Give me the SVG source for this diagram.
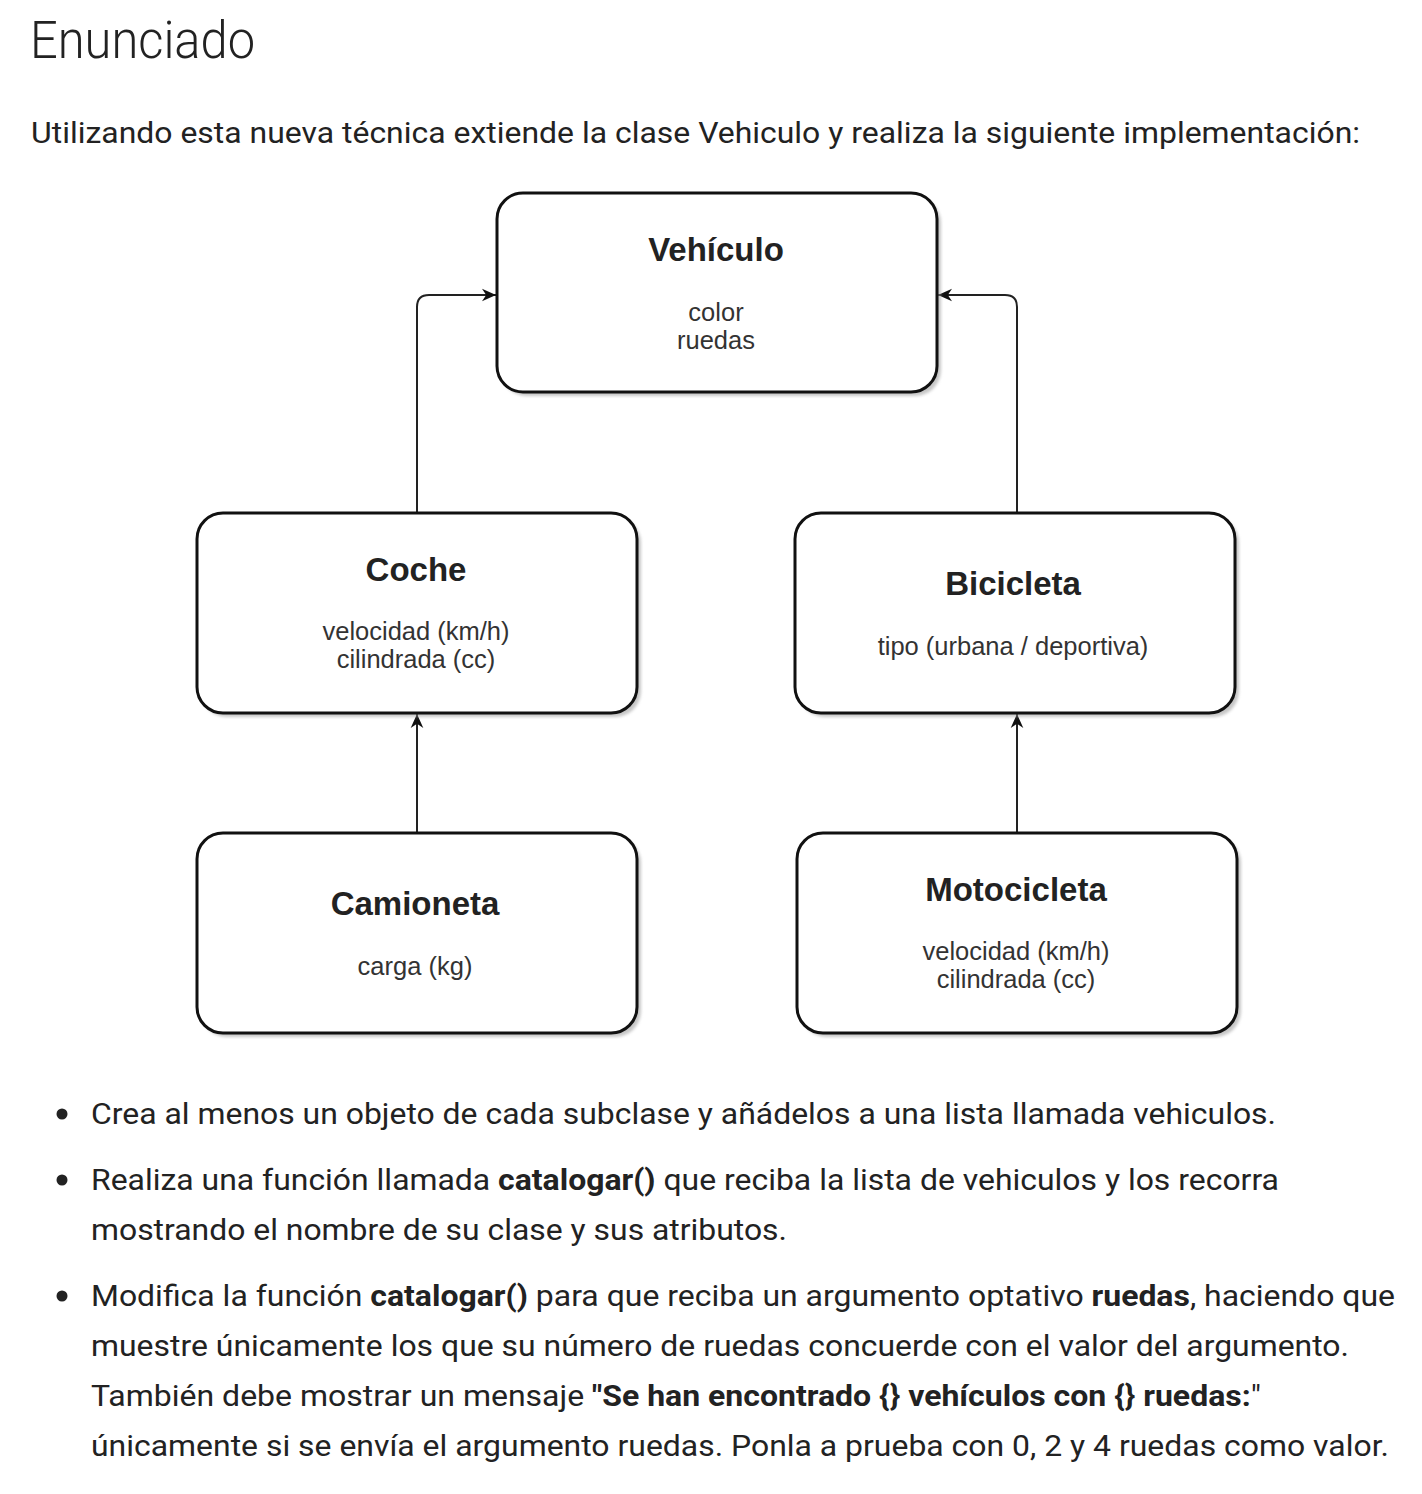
<svg xmlns="http://www.w3.org/2000/svg" width="1422" height="1494" viewBox="0 0 1422 1494">
<style>
.h1{font-family:Roboto,"Liberation Sans",sans-serif;font-weight:300;font-size:51px;fill:#222}
.p{font-family:Roboto,"Liberation Sans",sans-serif;font-size:29px;fill:#222}
.b{font-weight:bold}
.box{fill:#fff;stroke:#111;stroke-width:3}
.sh{fill:#999;opacity:0.55}
.t{font-family:"Liberation Sans",Arial,sans-serif;font-weight:bold;font-size:33px;fill:#222;text-anchor:middle}
.a{font-family:"Liberation Sans",Arial,sans-serif;font-size:25.5px;fill:#333;text-anchor:middle}
.c{fill:none;stroke:#222;stroke-width:2}
</style>
<defs>
<filter id="blur" x="-5%" y="-5%" width="110%" height="110%"><feGaussianBlur stdDeviation="1.5"/></filter>
<marker id="arr" viewBox="0 0 10 10" refX="10" refY="5" markerWidth="15" markerHeight="14" markerUnits="userSpaceOnUse" orient="auto">
<path d="M0,0.5 L10,5 L0,9.5 L3,5 z" fill="#111"/>
</marker>
</defs>
<rect width="1422" height="1494" fill="#fff"/>
<text class="h1" x="30" y="58" textLength="225" lengthAdjust="spacingAndGlyphs">Enunciado</text>
<text class="p" x="31" y="143" textLength="1329" lengthAdjust="spacingAndGlyphs">Utilizando esta nueva técnica extiende la clase Vehiculo y realiza la siguiente implementación:</text>

<g id="connectors">
<path class="c" d="M417,513 V307 Q417,295 429,295 H496" marker-end="url(#arr)"/>
<path class="c" d="M1017,513 V307 Q1017,295 1005,295 H938" marker-end="url(#arr)"/>
<path class="c" d="M417,833 V714" marker-end="url(#arr)"/>
<path class="c" d="M1017,833 V714" marker-end="url(#arr)"/>
</g>

<g id="vehiculo">
<rect class="sh" filter="url(#blur)" x="501" y="197" width="440" height="199" rx="26"/>
<rect class="box" x="497" y="193" width="440" height="199" rx="26"/>
<text class="t" x="716" y="261">Vehículo</text>
<text class="a" x="716" y="321">color</text>
<text class="a" x="716" y="349">ruedas</text>
</g>
<g id="coche">
<rect class="sh" filter="url(#blur)" x="201" y="517" width="440" height="200" rx="26"/>
<rect class="box" x="197" y="513" width="440" height="200" rx="26"/>
<text class="t" x="416" y="581">Coche</text>
<text class="a" x="416" y="640">velocidad (km/h)</text>
<text class="a" x="416" y="668">cilindrada (cc)</text>
</g>
<g id="bicicleta">
<rect class="sh" filter="url(#blur)" x="799" y="517" width="440" height="200" rx="26"/>
<rect class="box" x="795" y="513" width="440" height="200" rx="26"/>
<text class="t" x="1013" y="595">Bicicleta</text>
<text class="a" x="1013" y="655">tipo (urbana / deportiva)</text>
</g>
<g id="camioneta">
<rect class="sh" filter="url(#blur)" x="201" y="837" width="440" height="200" rx="26"/>
<rect class="box" x="197" y="833" width="440" height="200" rx="26"/>
<text class="t" x="415" y="915">Camioneta</text>
<text class="a" x="415" y="975">carga (kg)</text>
</g>
<g id="motocicleta">
<rect class="sh" filter="url(#blur)" x="801" y="837" width="440" height="200" rx="26"/>
<rect class="box" x="797" y="833" width="440" height="200" rx="26"/>
<text class="t" x="1016" y="901">Motocicleta</text>
<text class="a" x="1016" y="960">velocidad (km/h)</text>
<text class="a" x="1016" y="988">cilindrada (cc)</text>
</g>

<g fill="#222">
<circle cx="62" cy="1114" r="5.5"/>
<circle cx="62" cy="1180" r="5.5"/>
<circle cx="62" cy="1296" r="5.5"/>
</g>
<text class="p" x="91" y="1124" textLength="1185" lengthAdjust="spacingAndGlyphs">Crea al menos un objeto de cada subclase y añádelos a una lista llamada vehiculos.</text>
<text class="p" x="91" y="1190" textLength="1188" lengthAdjust="spacingAndGlyphs">Realiza una función llamada <tspan class="b">catalogar()</tspan> que reciba la lista de vehiculos y los recorra</text>
<text class="p" x="91" y="1240" textLength="696" lengthAdjust="spacingAndGlyphs">mostrando el nombre de su clase y sus atributos.</text>
<text class="p" x="91" y="1306" textLength="1304" lengthAdjust="spacingAndGlyphs">Modifica la función <tspan class="b">catalogar()</tspan> para que reciba un argumento optativo <tspan class="b">ruedas</tspan>, haciendo que</text>
<text class="p" x="91" y="1356" textLength="1258" lengthAdjust="spacingAndGlyphs">muestre únicamente los que su número de ruedas concuerde con el valor del argumento.</text>
<text class="p" x="91" y="1406" textLength="1170" lengthAdjust="spacingAndGlyphs">También debe mostrar un mensaje <tspan class="b">"Se han encontrado {} vehículos con {} ruedas:</tspan>"</text>
<text class="p" x="91" y="1456" textLength="1298" lengthAdjust="spacingAndGlyphs">únicamente si se envía el argumento ruedas. Ponla a prueba con 0, 2 y 4 ruedas como valor.</text>
</svg>
